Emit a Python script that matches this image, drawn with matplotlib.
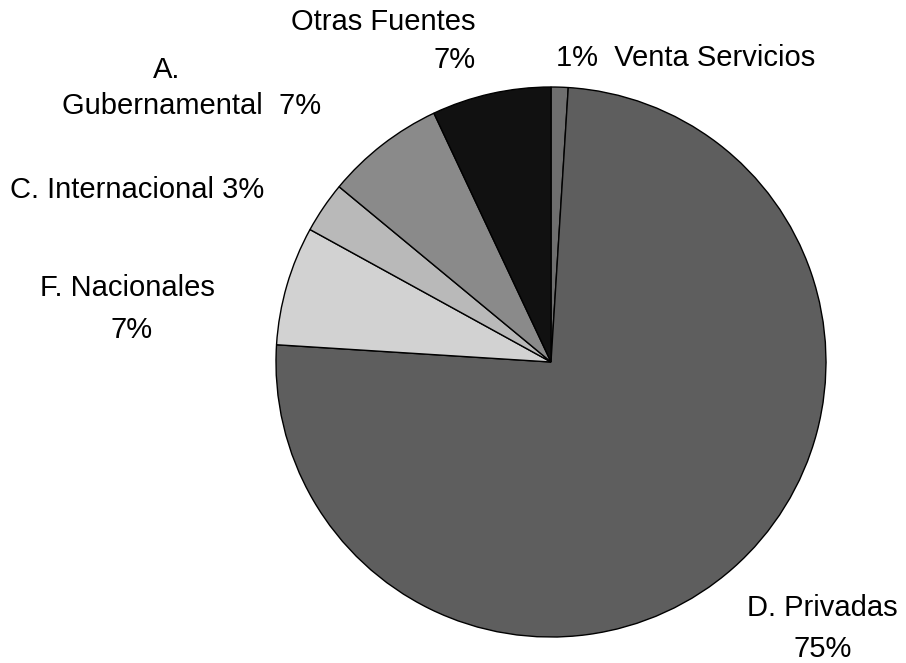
import matplotlib
matplotlib.use('Agg')
import matplotlib.pyplot as plt

# data
labels = ['Venta Servicios', 'D. Privadas', 'F. Nacionales', 'C. Internacional',
          'A. Gubernamental', 'Otras Fuentes']
values = [1, 75, 7, 3, 7, 7]
colors = ['#6e6e6e', '#5e5e5e', '#d2d2d2', '#b9b9b9', '#8a8a8a', '#111111']

plt.rcParams['font.family'] = ['Liberation Sans', 'DejaVu Sans']
fs = 21

fig = plt.figure(figsize=(9.06, 6.63), dpi=100)
ax = fig.add_axes([0, 0, 1, 1])
ax.pie(values, colors=colors, startangle=90, counterclock=False, radius=1.0,
       wedgeprops=dict(edgecolor='black', linewidth=1.0))
ax.set_xlim(-2.0036, 1.2909)
ax.set_ylim(-1.0945, 1.3164)
ax.set_aspect('equal')
ax.axis('off')

# labels placed by hand like the original
ax.text(-0.273, 1.236, 'Otras Fuentes', ha='right', va='center', fontsize=fs)
ax.text(-0.273, 1.098, '7%', ha='right', va='center', fontsize=fs)
ax.text(0.018, 1.105, '%d%%  %s' % (values[0], labels[0]), ha='left', va='center', fontsize=fs)
ax.text(-1.396, 1.062, 'A.', ha='center', va='center', fontsize=fs)
ax.text(-1.778, 0.931, 'Gubernamental  %d%%' % values[4], ha='left', va='center', fontsize=fs)
ax.text(-1.967, 0.625, '%s %d%%' % (labels[3], values[3]), ha='left', va='center', fontsize=fs)
ax.text(-1.858, 0.269, labels[2], ha='left', va='center', fontsize=fs)
ax.text(-1.524, 0.116, '%d%%' % values[2], ha='center', va='center', fontsize=fs)
ax.text(1.262, -0.895, labels[1], ha='right', va='center', fontsize=fs)
ax.text(0.989, -1.044, '%d%%' % values[1], ha='center', va='center', fontsize=fs)

fig.savefig('out.png', dpi=100)
